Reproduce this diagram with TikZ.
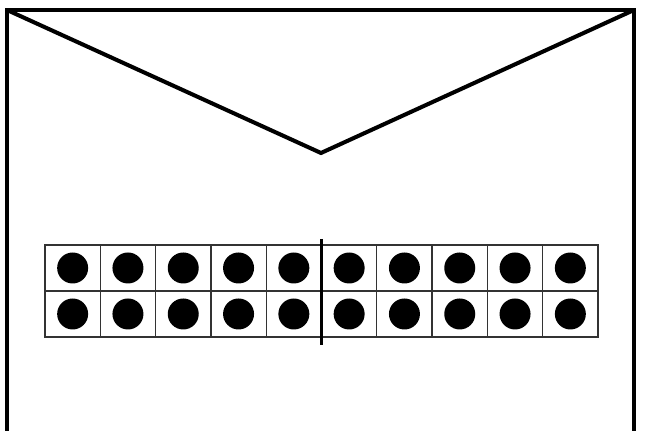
\documentclass[tikz,border=0pt]{standalone}
\usepackage{tikz}
\usetikzlibrary{positioning, calc}

\tikzset{
    envline/.style={line width=2.3pt, line join=miter},
    gridline/.style={line width=0.75pt, black!80},
    dot/.style={circle, fill=black, inner sep=0pt, minimum size=31*0.02cm},
    cell/.style={draw=black!80, line width=0.75pt, minimum width=55.3*0.02cm, minimum height=46*0.02cm, inner sep=0pt}
}

\begin{document}
\begin{tikzpicture}[x=0.02cm, y=-0.02cm]
    \useasboundingbox (0,0) rectangle (647,431);

    % Envelope
    \coordinate (tl) at (7,10);
    \coordinate (tr) at (634,10);
    \coordinate (bl) at (7,440);
    \coordinate (br) at (634,440);
    \coordinate (tip) at (321,153);
    \draw[envline] (bl) -- (tl) -- (tr) -- (br);
    \draw[envline] (tl) -- (tip) -- (tr);

    % Ten frame: two rows of ten
    \foreach \r in {0,1} {
        \foreach \c in {0,...,9} {
            \node[cell] (f\r\c) at (45+27.65+\c*55.3, 245+23+\r*46) {};
            \node[dot] (d\r\c) at (f\r\c.center) {};
        }
    }

    % Divider between the fives
    \coordinate (divtop) at (321.5,239);
    \coordinate (divbot) at (321.5,345);
    \draw[line width=2.2pt] (divtop) -- (divbot);
\end{tikzpicture}
\end{document}
